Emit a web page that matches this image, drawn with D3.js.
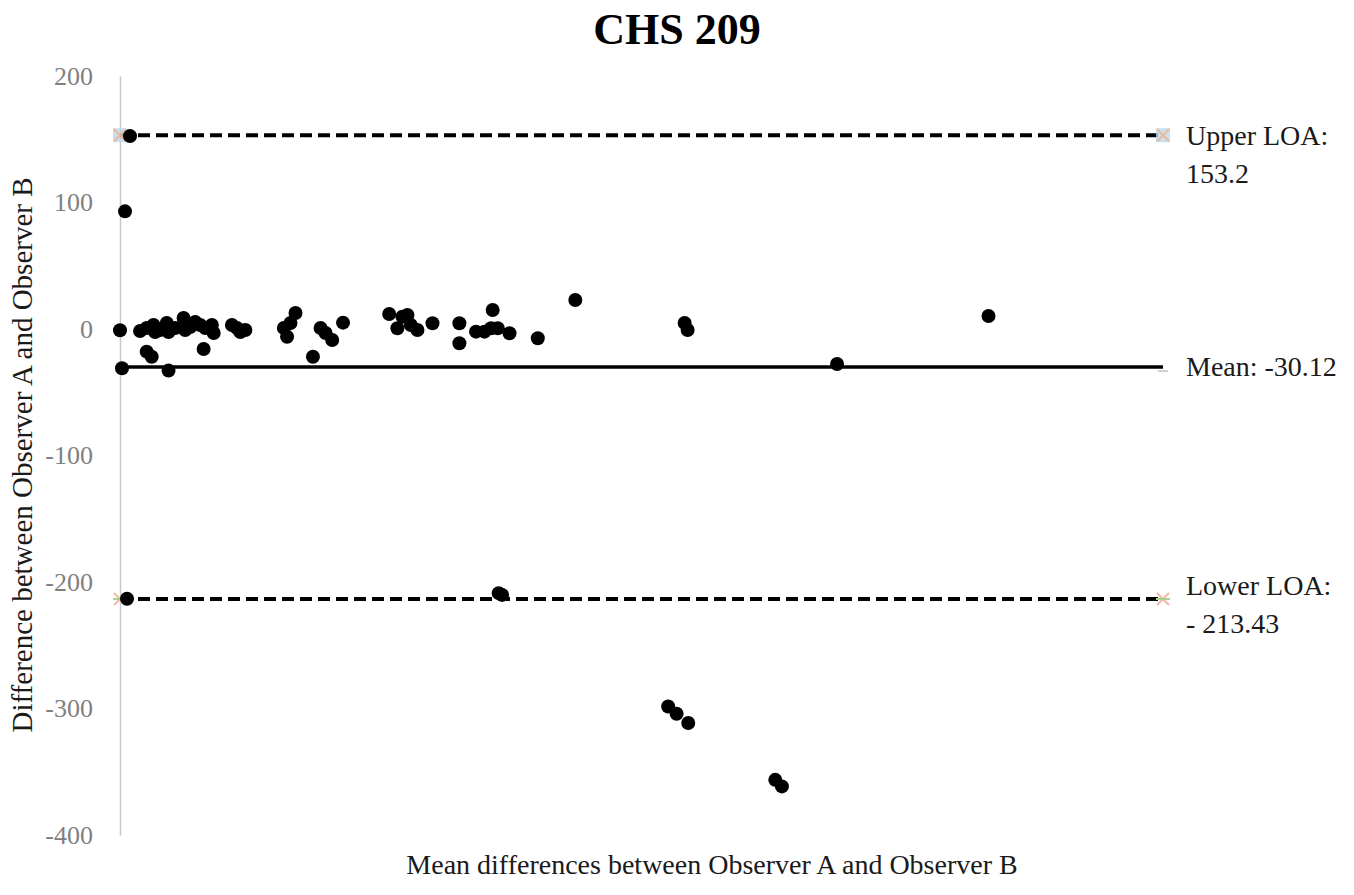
<!DOCTYPE html>
<meta charset="utf-8">
<script src="https://d3js.org/d3.v7.min.js"></script>
<style>
  body { margin: 0; background: #fff; }
  text { font-family: "Liberation Serif", "Times New Roman", serif; }
</style>
<div id="bland"></div>
<script>
    // mean of the two observers (x, no axis shown) and their difference (y)
    const means = [0, 1, 2.5, 5, 3.5, 10, 13.3, 16.7, 17.5, 20, 23.3, 24.2, 27.5, 31.7, 32.5, 35, 37.5, 40, 42.5, 45.8,
        46.7, 55.8, 58.3, 60, 62.5, 13.3, 15.8, 41.7, 24.2, 81.7, 83.3, 85, 87.5, 96.2, 100, 102.5, 105.8, 111.2,
        134.2, 138.3, 140.8, 143.3, 145, 148.3, 155.8, 169.2, 169.2, 177.5, 181.7, 185.8, 185, 188.3, 194.2, 208.3,
        227, 281.5, 283, 357.5, 433, 188.8, 190.5, 273.3, 277.5, 283.3, 326.7, 330]
    const diffs = [-1, -31, 93, 152.5, -213.3, -1.6, 0.8, 3.2, -2.4, -0.8, 4.7, -2.4, 0.8, 8.7, -0.8, 1.6, 5.5, 3.2, 0.8, 3.2,
        -3.2, 3.2, 0.8, -2.4, -0.8, -17.9, -21.9, -15.8, -32.9, 0.8, -6.1, 4.7, 12.6, -21.9, 0.8, -3.2, -8.7, 5,
        11.9, 0.6, 9.7, 11.1, 3.2, -0.8, 4.5, 4.5, -11.3, -2.1, -2.1, 15, 0.6, 0.6, -3.4, -7.3,
        22.9, 4.7, -0.8, -27.7, 10.3, -208.8, -210.2, -298.4, -304.2, -311.5, -356.4, -361.6]

    const upperLOA = 153.2, meanDiff = -30.12, lowerLOA = -213.43
    const yTicks = [200, 100, 0, -100, -200, -300, -400]

    const margin = {top: 76, right: 191, bottom: 60, left: 120},
        width = 1354 - margin.left - margin.right,
        height = 895 - margin.top - margin.bottom;

    const root = d3.select("#bland")
      .append("svg")
        .attr("width", 1354)
        .attr("height", 895)
    root.append("rect").attr("width", 1354).attr("height", 895).attr("fill", "#fff")

    const svg = root.append("g")
        .attr("transform", `translate(${margin.left}, ${margin.top})`);

    const x = d3.scaleLinear()
        .domain([0, 520])
        .range([0, width]);

    const y = d3.scaleLinear()
        .domain([-400, 200])
        .range([height, 0]);

    const yAxis = svg.append("g")
        .call(d3.axisLeft(y).tickValues(yTicks).tickFormat(d => String(d)).tickSize(0).tickPadding(27))
    yAxis.select(".domain").attr("stroke", "#c8c8c8").attr("stroke-width", 1.5)
    yAxis.selectAll("text")
        .attr("fill", "#808080")
        .style("font-size", "26px")
        .style("font-family", "'Liberation Serif', serif")

    // limits of agreement and mean
    const refs = [
        {v: upperLOA, dash: "12,6"},
        {v: meanDiff, dash: null},
        {v: lowerLOA, dash: "12,6"}
    ]
    svg.selectAll("line.ref")
        .data(refs)
        .join("line")
            .attr("class", "ref")
            .attr("x1", x(0))
            .attr("x2", x(520))
            .attr("y1", d => y(d.v))
            .attr("y2", d => y(d.v))
            .attr("stroke", "#000")
            .attr("stroke-width", d => d.dash ? 4 : 3.5)
            .attr("stroke-dasharray", d => d.dash)

    // faint end markers of the reference series
    ;[x(0), x(520)].forEach(function(px){
        svg.append("rect")
            .attr("x", px - 7).attr("y", y(upperLOA) - 7)
            .attr("width", 14).attr("height", 14)
            .attr("fill", "#bdd7ee").attr("opacity", 0.8)
        svg.append("path")
            .attr("d", `M${px-6},${y(upperLOA)-6}L${px+6},${y(upperLOA)+6}M${px+6},${y(upperLOA)-6}L${px-6},${y(upperLOA)+6}`)
            .attr("stroke", "#f4b183").attr("stroke-width", 2).attr("opacity", 0.8)
        svg.append("path")
            .attr("d", `M${px-6},${y(lowerLOA)-6}L${px+6},${y(lowerLOA)+6}M${px+6},${y(lowerLOA)-6}L${px-6},${y(lowerLOA)+6}`)
            .attr("stroke", "#f4b6a6").attr("stroke-width", 2)
        svg.append("line")
            .attr("x1", px - 7).attr("x2", px + 7)
            .attr("y1", y(lowerLOA)).attr("y2", y(lowerLOA))
            .attr("stroke", "#a9d18e").attr("stroke-width", 2)
        svg.append("line")
            .attr("x1", px - 5).attr("x2", px + 5)
            .attr("y1", y(meanDiff) + 4).attr("y2", y(meanDiff) + 4)
            .attr("stroke", "#d0d0d0").attr("stroke-width", 2)
    })

    svg.selectAll("circle.pt")
        .data(means.map((m, i) => [m, diffs[i]]))
        .join("circle")
            .attr("class", "pt")
            .attr("cx", d => x(d[0]))
            .attr("cy", d => y(d[1]))
            .attr("r", 7)
            .attr("fill", "#000")

    // labels at the right end
    const labels = [
        {v: upperLOA, lines: ["Upper LOA:", "153.2"], dy: 10},
        {v: meanDiff, lines: ["Mean: -30.12"], dy: 9},
        {v: lowerLOA, lines: ["Lower LOA:", "- 213.43"], dy: -4}
    ]
    labels.forEach(function(l){
        const t = svg.append("text")
            .attr("x", width + 23)
            .attr("y", y(l.v) + l.dy)
            .attr("fill", "#1a1a1a")
            .style("font-size", "28px")
        l.lines.forEach(function(s, i){
            t.append("tspan").attr("x", width + 23).attr("dy", i ? 38 : 0).text(s)
        })
    })

    root.append("text")
        .attr("x", 677)
        .attr("y", 44)
        .attr("text-anchor", "middle")
        .style("font-size", "44px")
        .style("font-weight", "bold")
        .text("CHS 209")

    root.append("text")
        .attr("x", 712)
        .attr("y", 874)
        .attr("text-anchor", "middle")
        .style("font-size", "28px")
        .attr("fill", "#1a1a1a")
        .text("Mean differences between Observer A and Observer B")

    root.append("text")
        .attr("transform", "translate(32, 455) rotate(-90)")
        .attr("text-anchor", "middle")
        .style("font-size", "29px")
        .attr("fill", "#1a1a1a")
        .text("Difference between Observer A and Observer B")
</script>
